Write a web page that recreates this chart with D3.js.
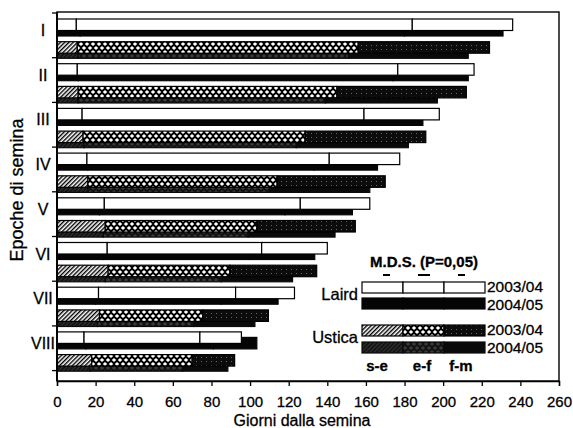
<!DOCTYPE html>
<html><head><meta charset="utf-8">
<script src="https://cdn.jsdelivr.net/npm/d3@7"></script>
<style>html,body{margin:0;padding:0;background:#fff;} svg{display:block;font-family:"Liberation Sans",Arial,sans-serif;}</style>
</head><body><svg id="c" width="573" height="428"></svg>
<script>
// ---- data (days after sowing) ----
const epochs = ["I","II","III","IV","V","VI","VII","VIII"];
const phases = ["s-e","e-f","f-m"];
const xTicks = [0,20,40,60,80,100,120,140,160,180,200,220,240,260];

const laird0304_se = [10, 10.5, 13, 15.5, 24.5, 26, 21.5, 14];
const laird0304_ef = [174, 166, 146, 125.5, 101.5, 80, 71, 60];
const laird0304_fm = [52, 39.5, 39, 36.5, 36, 34, 30.5, 21.5];

const laird0405_se = [12, 11, 14, 16, 22, 24, 20, 15];
const laird0405_ef = [168, 163, 140, 117, 96, 76, 65, 66];
const laird0405_fm = [51, 39, 35.5, 33, 35, 33.5, 29.5, 22.5];

const ustica0304_se = [10.5, 11, 13.5, 16, 25, 26.5, 22, 18];
const ustica0304_ef = [145.5, 134, 115, 98, 78.5, 63, 53.5, 52];
const ustica0304_fm = [68, 67, 62.5, 56, 51, 45, 34, 22];

const ustica0405_se = [11, 11, 14, 16, 24, 25, 21, 17];
const ustica0405_ef = [140, 128, 110, 94, 75, 60, 50, 48];
const ustica0405_fm = [62, 58, 58, 52, 45, 37, 31.5, 23.5];

const legendYears = ["2003/04","2004/05"];
const mdsLabel = "M.D.S. (P=0,05)";

(function(){
const svg = d3.select("#c");
const defs = svg.append("defs");
function pat(id, w, h, bg, draw, tr){
  const p = defs.append("pattern").attr("id", id).attr("patternUnits","userSpaceOnUse")
    .attr("width", w).attr("height", h);
  if (tr) p.attr("patternTransform", tr);
  p.append("rect").attr("width", w).attr("height", h).attr("fill", bg);
  draw(p);
}
function diamonds(p, col){
  [[0,0],[6,0],[0,8],[6,8],[3,4]].forEach(([cx,cy]) =>
    p.append("path").attr("d", `M${cx-2.2},${cy}L${cx},${cy-2.1}L${cx+2.2},${cy}L${cx},${cy+2.1}Z`).attr("fill", col));
}
pat("hatch", 3, 3, "#fff", p => p.append("line").attr("x1",0.7).attr("y1",0).attr("x2",0.7).attr("y2",3)
  .attr("stroke","#000").attr("stroke-width",1.4), "rotate(45)");
pat("cross", 6, 8, "#000", p => diamonds(p, "#fff"));
pat("dots", 5, 4, "#0c0c0c", p => p.append("rect").attr("x",1).attr("y",1).attr("width",1).attr("height",1).attr("fill","#666"));
pat("hatchDark", 3, 3, "#111", p => p.append("line").attr("x1",0.7).attr("y1",0).attr("x2",0.7).attr("y2",3)
  .attr("stroke","#444").attr("stroke-width",0.8), "rotate(45)");
pat("crossDark", 6, 8, "#111", p => diamonds(p, "#3a3a3a"));

const pL = 57, pR = 559, pT = 12, pB = 381;
const x = d3.scaleLinear().domain([0, 260]).range([pL, pR]);
const band = 44.7;
const y = d3.scaleBand().domain(epochs).range([13, 13 + band * epochs.length]).padding(0);

const series = [
  {key:"L04", se:laird0405_se, ef:laird0405_ef, fm:laird0405_fm, off:11.5, fills:["#050505","#050505","#050505"], stroke:"#050505"},
  {key:"L03", se:laird0304_se, ef:laird0304_ef, fm:laird0304_fm, off:6, fills:["#fff","#fff","#fff"], stroke:"#000"},
  {key:"U04", se:ustica0405_se, ef:ustica0405_ef, fm:ustica0405_fm, off:33.8, fills:["url(#hatchDark)","url(#crossDark)","#0a0a0a"], stroke:"#0a0a0a"},
  {key:"U03", se:ustica0304_se, ef:ustica0304_ef, fm:ustica0304_fm, off:28.7, fills:["url(#hatch)","url(#cross)","url(#dots)"], stroke:"#000"}
];
const barH = 11.5;

series.forEach(s => {
  const g = svg.append("g").attr("class", s.key);
  epochs.forEach((ep, i) => {
    const vals = [s.se[i], s.ef[i], s.fm[i]];
    let acc = 0;
    vals.forEach((v, j) => {
      const x0 = acc; acc += v;
      g.append("rect").attr("x", x(x0)).attr("y", y(ep) + s.off)
        .attr("width", x(acc) - x(x0)).attr("height", barH)
        .attr("fill", s.fills[j]).attr("stroke", s.stroke).attr("stroke-width", 1.2);
    });
  });
});

// frame
svg.append("rect").attr("x", pL).attr("y", pT).attr("width", pR-pL).attr("height", pB-pT)
  .attr("fill","none").attr("stroke","#000").attr("stroke-width",1.4);
svg.append("line").attr("x1", pL).attr("x2", pL).attr("y1", pT).attr("y2", pB)
  .attr("stroke","#000").attr("stroke-width",1.8);

const txt = sel => sel.attr("fill","#000").attr("stroke","#000").attr("stroke-width",0.3);

// category ticks and labels
const bounds = epochs.map(e => y(e)).concat([y(epochs[epochs.length-1]) + y.bandwidth()]);
svg.selectAll(".ct").data(bounds).join("line").attr("class","ct").attr("x1", pL-5).attr("x2", pL)
  .attr("y1", d=>d).attr("y2", d=>d).attr("stroke","#000").attr("stroke-width",1.3);
svg.selectAll(".cl").data(epochs).join("text").attr("class","cl").attr("x", 43).attr("y", d => y(d) + 23)
  .attr("text-anchor","middle").attr("font-size",16).call(txt).text(d=>d);

// x axis
const xa = svg.append("g").attr("transform", `translate(0,${pB})`)
  .call(d3.axisBottom(x).tickValues(xTicks).tickSize(5).tickPadding(10).tickFormat(d3.format("d")));
xa.select(".domain").attr("stroke","#000").attr("stroke-width",1.4);
xa.selectAll(".tick line").attr("stroke","#000").attr("stroke-width",1.3);
xa.selectAll("text").attr("font-size",15).call(txt).attr("font-family","Liberation Sans, Arial, sans-serif");

svg.append("text").attr("x", 302).attr("y", 426).attr("text-anchor","middle").attr("font-size",16)
  .call(txt).text("Giorni dalla semina");
svg.append("text").attr("transform","translate(23,190) rotate(-90)").attr("text-anchor","middle")
  .attr("font-size",18).call(txt).text("Epoche di semina");

// legend
const lx = d3.scaleLinear().domain([0, 3]).range([362, 485]);
const legRows = [
  {fills:series[1].fills, stroke:"#000", y:282, ty:292, year:legendYears[0]},
  {fills:series[0].fills, stroke:"#050505", y:298, ty:310, year:legendYears[1]},
  {fills:series[3].fills, stroke:"#000", y:325, ty:335, year:legendYears[0]},
  {fills:series[2].fills, stroke:"#0a0a0a", y:342, ty:353, year:legendYears[1]}
];
const lg = svg.append("g");
legRows.forEach(r => {
  r.fills.forEach((f, j) => lg.append("rect").attr("x", lx(j)).attr("y", r.y).attr("width", lx(j+1)-lx(j))
    .attr("height", 11).attr("fill", f).attr("stroke", r.stroke).attr("stroke-width", 1.2));
  lg.append("text").attr("x", 487).attr("y", r.ty).attr("font-size",15.5).call(txt).text(r.year);
});
lg.append("text").attr("x", 358).attr("y", 300).attr("text-anchor","end").attr("font-size",16.5).call(txt).text("Laird");
lg.append("text").attr("x", 358).attr("y", 343).attr("text-anchor","end").attr("font-size",16.5).call(txt).text("Ustica");
lg.append("text").attr("x", 424).attr("y", 267).attr("text-anchor","middle").attr("font-size",15)
  .attr("font-weight","bold").call(txt).text(mdsLabel);
const mdsDash = [[383,7],[418,12],[458,7]];
mdsDash.forEach(([dx,w]) => lg.append("rect").attr("x",dx).attr("y",274).attr("width",w).attr("height",2).attr("fill","#000"));
const phaseX = [377, 422, 461];
phases.forEach((p,i) => lg.append("text").attr("x", phaseX[i]).attr("y", 371).attr("text-anchor","middle")
  .attr("font-size",15).attr("font-weight","bold").call(txt).text(p));
})();
</script></body></html>
